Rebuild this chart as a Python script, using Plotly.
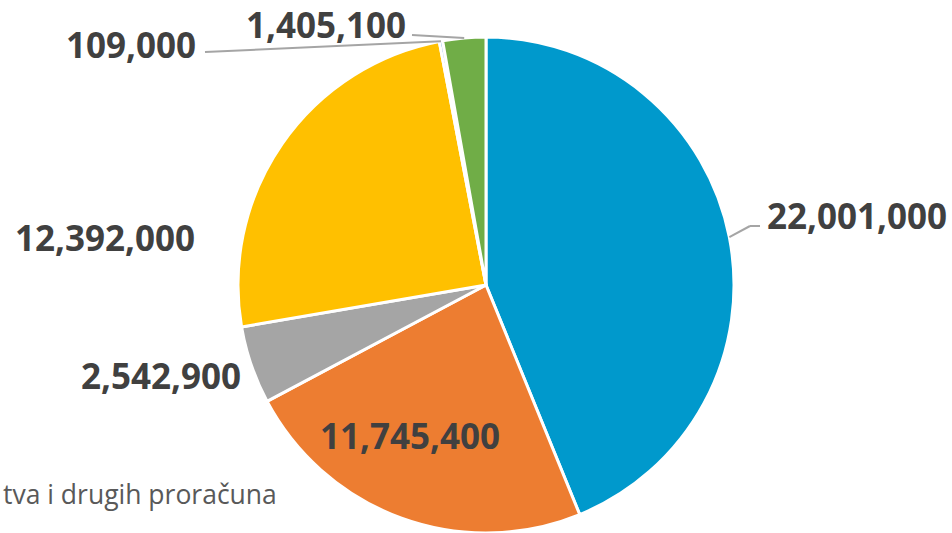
import math
import plotly.graph_objects as go

# data
labels = ["A", "B", "C", "D", "E", "F"]
values = [22001000, 11745400, 2542900, 12392000, 109000, 1405100]
text_labels = ["22,001,000", "11,745,400", "2,542,900", "12,392,000", "109,000", "1,405,100"]
colors = ["#0099CC", "#ED7D31", "#A5A5A5", "#FFC000", "#5B9BD5", "#70AD47"]
legend_text = "tva i drugih proračuna"

W, H = 952, 533
cx, cy, r = 486, 285, 248

fig = go.Figure(go.Pie(
    labels=labels,
    values=values,
    sort=False,
    direction="clockwise",
    rotation=0,
    textinfo="none",
    hoverinfo="label+value",
    marker=dict(colors=colors, line=dict(color="white", width=3)),
    domain=dict(x=[(cx - r) / W, (cx + r) / W], y=[max(0, 1 - (cy + r) / H), 1 - (cy - r) / H]),
    showlegend=False,
))


def px(x, y):
    return x / W, 1 - y / H


def edge_point(i, k=1.0):
    # point on the rim at the middle of slice i
    tot = sum(values)
    start = sum(values[:i]) / tot * 360
    mid = math.radians(start + values[i] / tot * 180)
    return cx + k * r * math.sin(mid), cy - k * r * math.cos(mid)


# label placement (screen pixels): x, y, xanchor, leader elbow points
place = [
    (765, 215, "left", [(750, 226), (760, 226)]),
    (410, 435, "center", None),
    (243, 375, "right", None),
    (197, 237, "right", None),
    (198, 45, "right", [(205, 52)]),
    (408, 25, "right", [(412, 35)]),
]

lab_font = dict(family="Open Sans", size=35, color="#404040")

for i, (x, y, anc, leader) in enumerate(place):
    ax, ay = px(x, y)
    fig.add_annotation(x=ax, y=ay, xref="paper", yref="paper", text="<b>%s</b>" % text_labels[i],
                       showarrow=False, xanchor=anc, yanchor="middle", font=lab_font)
    if leader:
        pts = [edge_point(i)] + leader
        for (x0, y0), (x1, y1) in zip(pts[:-1], pts[1:]):
            a0, b0 = px(x0, y0)
            a1, b1 = px(x1, y1)
            fig.add_shape(type="line", xref="paper", yref="paper", x0=a0, y0=b0, x1=a1, y1=b1,
                          line=dict(color="#A5A5A5", width=2))

fig.add_annotation(x=px(279, 0)[0], y=px(0, 494)[1], xref="paper", yref="paper",
                   text=legend_text, showarrow=False, xanchor="right", yanchor="middle",
                   font=dict(family="Open Sans", size=26.5, color="#595959"))

fig.update_layout(
    width=W, height=H,
    margin=dict(l=0, r=0, t=0, b=0),
    paper_bgcolor="white",
    plot_bgcolor="white",
)

fig.write_html("out.html", config={"displayModeBar": False},
               post_script="document.body.style.margin='0';")
